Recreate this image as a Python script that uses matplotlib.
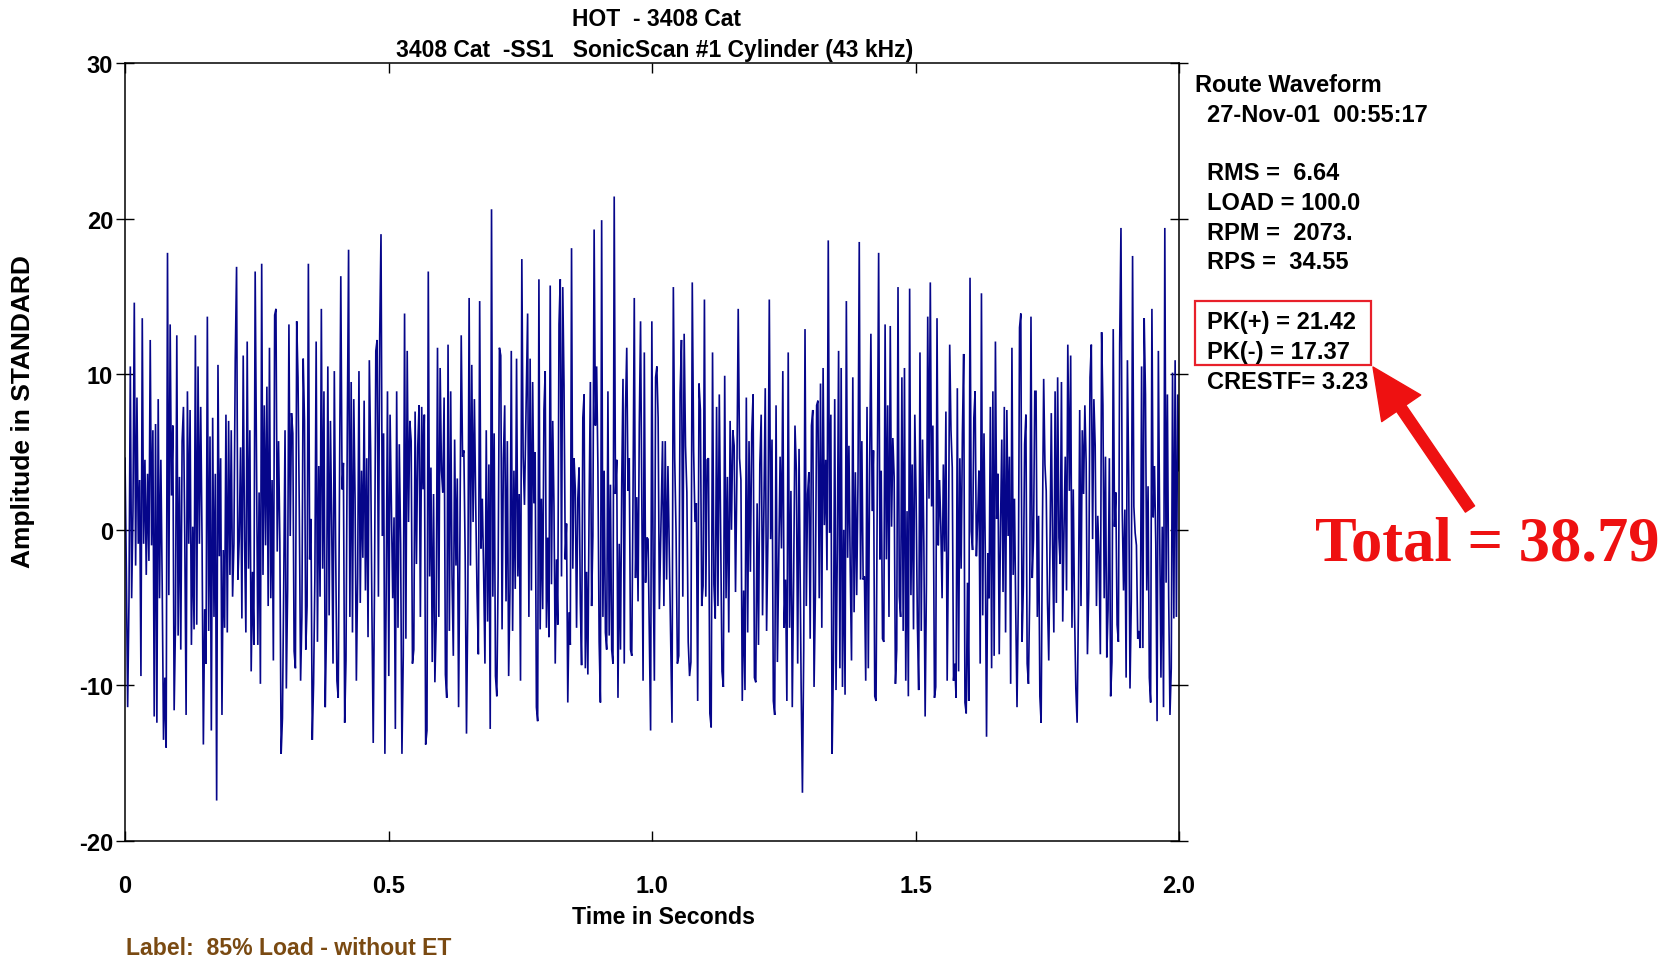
import numpy as np
import matplotlib
matplotlib.use("Agg")
import matplotlib.pyplot as plt
from matplotlib.patches import Rectangle, FancyArrowPatch

plt.rcParams['axes.unicode_minus'] = False
FONT = ['Liberation Sans Narrow', 'Liberation Sans', 'DejaVu Sans']

# ---------------- data ----------------
seg1 = [4.6, -2.5, -11.4, -4.5, 10.5, -4.4, 1.2, 14.6, -2.3, 8.5, -0.9, 3.2, -9.4, 13.6, -0.9, 4.5, -2.9, 3.6, -2.0, 12.2,
        -1.0, 6.4, -12.0, 6.8, -12.4, 8.4, -4.4, 4.5, -3.5, -13.5, -9.5, -14.0, 17.8, -4.2, 13.2, 2.2, 6.7, -11.6, -6.1, 12.5,
        -6.8, 3.4, -7.7, 5.7, 7.9, -0.4, -11.9, 8.9, -0.9, 7.7, -7.4, 0.2, -6.4, 12.5, -6.1, 10.5, -0.9, 7.9, -0.6, -13.8,
        -5.1, -8.6, 13.7, -6.5, 6.0, -12.9, 7.2, -5.6, 3.6, -17.4, 10.6, -1.7, 4.6, -11.9, -1.3, -6.3, 7.4, -6.6, 7.0, -2.9,
        6.4, -4.3, -0.9, 10.9, 16.9, -3.2, -0.6, 5.3, -5.7, 11.2, -0.6, -6.6, 12.1, -2.5, 6.4, -9.1, -2.7, -7.4, 16.6]
seg2 = [-7.4, 2.4, -9.9, 17.1, -2.9, 8.0, -1.0, 9.2, -4.9, 11.7, -4.4, 3.2, -8.4, 13.8, 14.2, -1.4, 5.7, -0.8, -14.4, -12.1,
        -3.5, 6.4, -10.2, -3.8, 13.2, -0.4, 7.5, 6.2, -7.8, -8.9, 13.4, 9.8, 1.2, -9.7, -5.6, 11.0, 7.0, -7.7, -4.9, 17.1,
        -1.9, 0.7, -13.5, -9.9, -3.1, 12.1, -7.2, 4.1, -4.3, 14.2, -2.5, 8.9, -11.4, -6.1, 10.5, -5.5, 7.0, 0.2, -8.6, 10.2,
        -1.0, -9.7, -10.8, 2.5, 16.3, 2.6, 4.3, -12.4, -8.4, 6.2, 18.0, -5.6, 9.5, -6.6, 8.4, 2.0, -9.7, -3.0, 10.2, -4.7,
        3.8, -1.8, 8.3, -3.9, 4.6, -6.9, 10.9, 5.1, -5.3, -13.7, -3.5, 11.5, 12.2, -4.3, 12.5, 19.0, -0.4, 6.2, -14.4, -3.9,
        8.9, -9.4, 7.4]
seg3 = [-4.4, 0.8, -12.8, 8.9, -6.3, 5.5, -0.9, -14.4, -8.1, 13.9, -7.0, 11.5, 0.5, 7.0, 5.7, -8.6, -7.7, 7.6, -2.2, 5.3,
        8.0, -5.6, 7.9, 2.6, 7.4, -13.8, -12.9, 16.6, -3.0, 4.0, -8.5, 2.3, -9.8, -5.9, 11.7, -5.6, 10.4, 3.8, 2.4, 8.5,
        -9.3, -10.8, 11.9, -6.5, 8.9, -3.0, -8.1, 5.8, -2.3, 3.3, -11.4, -0.6, 12.5, 4.7, 5.1, -1.7, -13.1, -4.6, 14.9, -2.3,
        10.6, 0.5, 8.4, 1.6, -4.0, -8.0, 14.7, -1.2, 2.0, -2.7, -8.6, 6.4, -5.9, 4.2, -12.8, 20.6, -4.3, 6.2, -9.4, -10.7,
        -3.0, 11.7, 11.2, -6.4, 4.6, 8.0, -4.6, 5.7, -9.4, -3.9, 11.5, -6.5, 3.8, -3.8, 11.0, -3.0, 2.3, -9.7, 17.4, 4.7, 1.6]
seg4 = [13.9, -5.6, 11.0, -3.9, 9.5, 1.7, 5.0, -11.4, -12.3, 16.1, -6.4, 2.0, -5.1, 7.7, 10.2, -6.3, -0.5, -6.9, 15.7, -3.5,
        7.0, 1.5, -8.6, -1.9, -6.1, 13.2, 16.1, -3.0, 15.6, 9.3, -1.9, 0.4, -11.1, -5.3, -7.4, 18.1, -2.5, 4.6, 2.6, -6.3,
        2.0, 4.0, -4.7, -8.7, 7.2, 8.7, -8.9, -2.7, -9.3, 1.5, 9.5, -4.9, -0.4, 19.3, 6.7, 10.5, 4.1, -7.2, -11.1, 19.9,
        -5.6, 3.8, -6.6, -7.7, 8.9, -6.8, 2.9, -7.7, -8.6, 21.42, 2.3, 4.5, -10.8, -0.9, -7.7, 3.0, 9.7, -8.6, 7.7, 11.7,
        2.5, 4.6, -7.7, -8.1, 2.3, 14.9, -3.1, 2.1, -4.6, 6.7, 13.4, 2.3, -9.7, 11.4, -3.4, -0.5, -0.6, -6.9, -12.9, 13.4,
        -1.9, -9.7, 9.8, 10.5, 7.2, -5.1]
seg5 = [5.7, -4.9, 5.7, -3.2, 4.1, -1.3, -6.9, -12.4, 15.6, 4.6, -0.2, -8.6, -8.1, 8.8, 12.2, -4.3, 12.6, 5.4, 2.4, -7.2,
        -9.4, -8.5, 15.9, 5.1, 0.5, 1.7, -11.0, 9.4, 7.7, -4.9, -3.6, 14.8, -4.3, 4.5, 4.6, -11.8, -12.7, 11.4, -3.5, -5.7,
        7.9, -4.9, 8.7, -0.5, -9.1, -10.1, 9.9, -4.4, 3.4, -6.6, 7.0, 0.0, 6.4, 5.4, -4.0, 3.4, 14.2, 4.6, 3.2, -11.0,
        -3.9, -10.3, 8.5, -6.6, 5.7, -2.7, 6.2, 8.7, -9.5, -9.8, 1.7, -7.4, 4.2, 7.4, -5.5, 1.3, 9.1, -6.5, -0.4, 14.8,
        -0.6, 5.8, -11.0, -11.9, 8.0, -8.5, -1.7, 4.7, -1.2, 10.2, -6.3, -3.2, -11.0, 11.4, -6.3, 2.5, -11.4, -3.2, 6.7, 3.8,
        -8.6, 5.2]
seg6 = [-10.1, -16.9, -7.7, 12.9, -4.9, 2.3, 3.7, -7.0, 6.7, 7.7, -10.1, -4.3, 8.0, 8.3, -4.4, 9.4, -6.3, 10.4, 0.3, 4.5,
        -2.6, 18.6, -0.2, 7.4, -14.4, -8.4, 8.4, -10.3, -1.3, 11.5, -8.9, 10.4, -10.1, 0.0, -10.6, 14.7, -1.8, 5.4, -2.5, -8.4,
        9.8, -5.3, 3.7, -4.2, 3.0, 18.5, -3.2, 5.7, -3.2, -3.0, -9.7, 7.9, -8.9, 3.6, 12.6, 1.2, 5.1, -10.7, -11.0, 3.7,
        17.8, -1.9, 3.8, -7.0, -7.2, 13.2, -1.9, 8.0, -5.6, 13.1, 0.2, 5.9, 3.4, -9.9, -7.7, 15.6, -4.3, -5.6, 9.8, -6.5,
        10.4, -9.7, 1.2, -10.7, 15.5, -4.2, 4.2, -6.4, 7.4, 2.1, -6.0, -10.3, 11.4, -6.5, 5.8, -0.9, -12.0, -3.5, 13.7, 2.0,
        15.9, 1.5, 6.7]
seg7 = [-10.8, -10.1, 13.6, -1.0, 3.2, 0.2, -4.4, 4.2, -1.4, 7.6, -9.7, -1.2, 11.9, 6.4, 4.0, -9.7, -8.6, -10.8, 9.1, -9.1,
        4.6, -2.5, 6.2, 11.3, -11.1, -11.8, -3.4, -11.0, 16.2, -0.1, -1.3, 7.2, 8.9, -1.7, 0.7, 3.8, -8.6, 15.2, -5.5, 6.2,
        -1.4, -13.3, -1.5, -4.4, 7.9, -8.9, 8.9, -8.1, 12.1, 0.7, 3.6, -8.0, 0.2, 5.8, -4.0, 7.9, -6.6, 7.7, -0.4, 4.7,
        -9.9, 11.7, -2.9, 2.0, -5.2, -11.4, -4.6, 13.0, 13.9, -7.2, -3.6, 5.5, 7.4, -8.6, -9.9, -4.2, 13.7, -3.1, -0.6, 8.9,
        8.9, -5.6, 0.9, -10.7, -12.4, -0.1, 9.7, 4.2, 2.5, -4.6, -8.4, -0.9, 7.5, -0.9, -6.6, 8.9, -4.7, 9.8, -0.5, -2.2,
        9.5, -5.9, 0.0, 4.7, -3.9, 11.9]
seg8 = [2.5, 11.2, -6.3, 2.6, -5.3, -10.2, -12.4, -5.1, 7.7, -4.9, 6.4, 2.3, 8.0, 4.3, -8.0, -4.0, 9.8, 11.9, -0.6, 8.4,
        5.4, -4.9, 0.9, -1.7, -8.0, 12.7, 8.0, -4.4, 4.7, -8.2, -5.1, 4.6, -10.7, -8.5, 12.9, 0.2, 2.4, -6.1, -7.2, 11.9,
        19.4, 1.2, -3.9, 1.3, -9.5, 10.9, 3.3, -10.2, -4.6, 17.6, 1.5, -0.2, -1.0, -7.0, -6.5, -7.6, 10.5, -7.6, 13.6, 8.7,
        -3.9, 2.8, -9.5, -11.1, 14.2, 0.8, 4.1, -0.9, -12.3, 11.5, 0.2, -9.5, 0.2, -11.4, 19.4, -3.4, 8.7, -4.3, -11.9, -8.9,
        10.1, -5.7, 10.9, -5.6, 8.7, 3.8]
segments = [seg1, seg2, seg3, seg4, seg5, seg6, seg7, seg8]
# time span (s) covered by each segment
seg_t_start = [0.0, 0.252, 0.508, 0.764, 1.020, 1.283, 1.536, 1.792]
seg_t_end = [0.247, 0.503, 0.758, 1.014, 1.279, 1.533, 1.789, 2.000]

x_ticks = [0, 0.5, 1.0, 1.5, 2.0]
x_ticklabels = ['0', '0.5', '1.0', '1.5', '2.0']
y_ticks = [-20, -10, 0, 10, 20, 30]
y_ticklabels = ['-20', '-10', '0', '10', '20', '30']

title1 = 'HOT  - 3408 Cat'
title2 = '3408 Cat  -SS1   SonicScan #1 Cylinder (43 kHz)'
info_lines = ['RMS =  6.64', 'LOAD = 100.0', 'RPM =  2073.', 'RPS =  34.55']
pk_lines = ['PK(+) = 21.42', 'PK(-) = 17.37', 'CRESTF= 3.23']

t = np.concatenate([np.linspace(a, b, len(s)) for a, b, s in zip(seg_t_start, seg_t_end, segments)])
amp = np.concatenate([np.asarray(s, dtype=float) for s in segments])

# ---------------- figure ----------------
W, H = 1678, 962
fig = plt.figure(figsize=(W / 100, H / 100), dpi=100)
fig.patch.set_facecolor('white')

def fx(px):
    return px / W

def fy(py):
    return 1 - py / H

ax = fig.add_axes([fx(125), fy(842), fx(1179) - fx(125), fy(64) - fy(842)])
ax.plot(t, amp, color='#06068a', lw=1.2, solid_joinstyle='miter')
ax.set_xlim(0, 2.0)
ax.set_ylim(-20, 30)
ax.set_xticks(x_ticks)
ax.set_xticklabels(x_ticklabels)
ax.set_yticks(y_ticks)
ax.set_yticklabels(y_ticklabels)
for sp in ax.spines.values():
    sp.set_linewidth(1.1)
    sp.set_color('black')
ax.tick_params(axis='x', direction='in', length=7, width=1.0, top=True, bottom=True, pad=24,
               labelsize=17)
ax.tick_params(axis='y', direction='inout', length=13, width=1.0, left=True, right=True, pad=2,
               labelsize=17)
for lab in ax.get_xticklabels() + ax.get_yticklabels():
    lab.set_family(FONT)
    lab.set_fontweight('bold')

tkw = dict(family=FONT, fontweight='bold', color='black')
fig.text(fx(657), fy(19), title1, ha='center', va='center', fontsize=16.5, **tkw)
fig.text(fx(655), fy(50), title2, ha='center', va='center', fontsize=16.5, **tkw)
fig.text(fx(664), fy(918), 'Time in Seconds', ha='center', va='center', fontsize=16.7, **tkw)
fig.text(fx(23), fy(412), 'Amplitude in STANDARD', ha='center', va='center', rotation=90, fontsize=19, **tkw)
fig.text(fx(126), fy(949), 'Label:  85% Load - without ET', ha='left', va='center', fontsize=16.6,
         family=FONT, fontweight='bold', color='#7a4a12')

fig.text(fx(1195), fy(86), 'Route Waveform', ha='left', va='center', fontsize=17, **tkw)
fig.text(fx(1207), fy(115), '27-Nov-01  00:55:17', ha='left', va='center', fontsize=17, **tkw)
for i, s in enumerate(info_lines):
    fig.text(fx(1207), fy(174 + i * 29.6), s, ha='left', va='center', fontsize=17, **tkw)
for i, s in enumerate(pk_lines):
    fig.text(fx(1207), fy(323 + i * 29.6), s, ha='left', va='center', fontsize=17, **tkw)

fig.add_artist(Rectangle((fx(1195), fy(366)), fx(1371) - fx(1195), fy(302) - fy(366),
                         transform=fig.transFigure, fill=False, edgecolor='#e8202a', lw=1.6))

fig.add_artist(FancyArrowPatch((fx(1470), fy(510)), (fx(1373), fy(368)), transform=fig.transFigure,
                               arrowstyle='simple,head_length=36,head_width=34,tail_width=8',
                               mutation_scale=1, color='#ee1111', shrinkA=0, shrinkB=0))

fig.text(fx(1487), fy(546), 'Total = 38.79', ha='center', va='center', fontsize=45,
         family=['Liberation Serif', 'DejaVu Serif'], fontweight='bold', color='#ee1111')

fig.savefig('out.png', dpi=100, facecolor='white')
